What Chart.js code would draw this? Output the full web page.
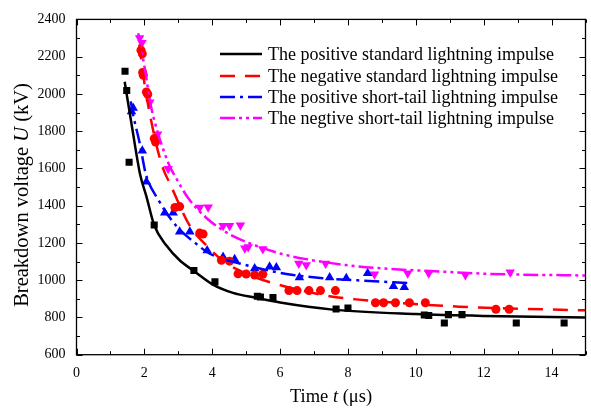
<!DOCTYPE html>
<html>
<head>
<meta charset="utf-8">
<script src="https://cdn.jsdelivr.net/npm/chart.js@4.4.0/dist/chart.umd.min.js"></script>
<style>
  html, body { margin: 0; padding: 0; background: #fff; }
  #wrap { width: 591px; height: 411px; }
</style>
</head>
<body>
<div id="wrap"><canvas id="c" width="591" height="411"></canvas></div>
<script>
// ── data ─────────────────────────────────────────────────────────────────────
const FONT = "'Times New Roman', 'Liberation Serif', serif";

const labels = [
  'The positive standard lightning impulse',
  'The negative standard lightning impulse',
  'The positive short-tail lightning impulse',
  'The negtive short-tail lightning impulse',
];

// measured points
const posStdT = [1.43, 1.48, 1.55, 2.29, 3.46, 4.08, 5.33, 5.42, 5.79, 7.65, 8.0, 10.25, 10.38, 10.84, 10.96, 11.36, 12.96, 14.37];
const posStdU = [2122, 2018, 1633, 1296, 1052, 991, 914, 910, 907, 845, 850, 813, 810, 770, 815, 815, 770, 770];

const negStdT = [1.90, 1.94, 1.95, 1.97, 2.06, 2.10, 2.29, 2.33, 2.90, 3.04, 3.63, 3.73, 4.27, 4.51, 4.76, 5.00, 5.25, 5.49, 6.26, 6.50, 6.85, 7.19, 7.63, 8.81, 9.05, 9.40, 9.81, 10.28, 12.36, 12.75];
const negStdU = [2235, 2215, 2115, 2100, 2010, 1998, 1760, 1742, 1390, 1395, 1253, 1248, 1107, 1102, 1034, 1033, 1028, 1032, 944, 944, 944, 944, 944, 879, 879, 879, 879, 879, 844, 844];

const posShortT = [1.62, 1.67, 1.94, 2.06, 2.60, 2.85, 3.04, 3.34, 3.85, 4.32, 4.66, 5.25, 5.69, 5.89, 6.57, 7.46, 7.95, 8.58, 9.34, 9.66];
const posShortU = [1905, 1925, 1695, 1528, 1362, 1362, 1260, 1260, 1160, 1125, 1113, 1063, 1072, 1068, 1014, 1014, 1011, 1037, 967, 962];

const negShortT = [1.86, 1.93, 2.16, 2.39, 2.70, 3.63, 3.88, 4.32, 4.51, 4.83, 4.96, 5.06, 5.49, 6.55, 6.77, 7.34, 8.78, 9.76, 10.38, 11.46, 12.78];
const negShortU = [2300, 2275, 1955, 1783, 1598, 1390, 1392, 1292, 1292, 1295, 1172, 1178, 1168, 1090, 1081, 1090, 1032, 1037, 1037, 1028, 1042];

// fitted curves
const posStdFitT = [1.42, 1.64, 1.87, 2.06, 2.29, 2.65, 3.04, 3.46, 4.02, 4.61, 5.3, 6.0, 7.55, 10.0, 12.0, 15.0];
const posStdFitU = [2065, 1818, 1572, 1450, 1295, 1186, 1107, 1049, 976, 932, 905, 880, 842, 818, 808, 800];

const negStdFitT = [1.85, 2.0, 2.3, 2.55, 2.75, 3.34, 3.88, 4.42, 5.1, 5.79, 7.46, 8.24, 11.28, 15.0];
const negStdFitU = [2265, 2060, 1770, 1600, 1520, 1292, 1177, 1090, 1028, 984, 914, 897, 858, 838];

const posShortFitT = [1.6, 1.67, 1.87, 2.04, 2.41, 2.9, 3.53, 3.93, 4.81, 6.23, 7.26, 8.49, 9.75];
const posShortFitU = [1960, 1888, 1730, 1572, 1432, 1300, 1195, 1142, 1090, 1032, 1011, 997, 985];

const negShortFitT = [1.82, 2.0, 2.2, 2.4, 2.75, 2.9, 3.29, 3.88, 4.51, 5.15, 6.03, 6.77, 7.95, 9.02, 10.79, 12.16, 15.0];
const negShortFitU = [2326, 2150, 1930, 1790, 1610, 1560, 1441, 1326, 1247, 1195, 1142, 1113, 1081, 1063, 1046, 1034, 1025];

const xTickLabels = ['0', '2', '4', '6', '8', '10', '12', '14'];

// ── helpers ───────────────────────────────────────────────────────────────────
const pts = (xs, ys) => xs.map((x, i) => ({ x, y: ys[i] }));

function marks(xs, ys, color, style, r, rot) {
  return {
    data: pts(xs, ys), showLine: false,
    pointStyle: style, pointRadius: r, pointRotation: rot || 0,
    backgroundColor: color, borderColor: color, borderWidth: 0,
    pointHoverRadius: r, order: 2,
  };
}
function curve(xs, ys, color, dash, label) {
  return {
    label, isFit: true,
    data: pts(xs, ys), showLine: true, pointRadius: 0,
    borderColor: color, borderWidth: 2.5, borderDash: dash, borderCapStyle: 'butt',
    cubicInterpolationMode: 'monotone', fill: false, order: 1,
  };
}

// inward ticks on all four sides + frame
const frame = {
  id: 'frame',
  afterDraw(chart) {
    const { ctx, chartArea: a, scales: { x, y } } = chart;
    ctx.save();
    ctx.strokeStyle = '#000';
    ctx.lineWidth = 1.3;
    ctx.strokeRect(a.left, a.top, a.right - a.left, a.bottom - a.top);
    ctx.lineWidth = 1;
    ctx.beginPath();
    for (let t = x.min; t <= x.max; t += 1) {
      const px = Math.round(x.getPixelForValue(t)) + 0.5;
      const len = t % 2 === 0 ? 6 : 3.5;
      ctx.moveTo(px, a.bottom); ctx.lineTo(px, a.bottom - len);
      ctx.moveTo(px, a.top);    ctx.lineTo(px, a.top + len);
    }
    for (let v = y.min; v <= y.max; v += 100) {
      const py = Math.round(y.getPixelForValue(v)) + 0.5;
      const len = v % 200 === 0 ? 6 : 3.5;
      ctx.moveTo(a.left, py);  ctx.lineTo(a.left + len, py);
      ctx.moveTo(a.right, py); ctx.lineTo(a.right - len, py);
    }
    ctx.stroke();
    ctx.restore();
  }
};

// axis titles with italic symbols
function drawParts(ctx, parts, cx, cy, size) {
  const f = p => (p.it ? 'italic ' : '') + size + 'px ' + FONT;
  let w = 0;
  parts.forEach(p => { ctx.font = f(p); w += ctx.measureText(p.s).width; });
  let xx = cx - w / 2;
  parts.forEach(p => {
    ctx.font = f(p);
    ctx.fillText(p.s, xx, cy);
    xx += ctx.measureText(p.s).width;
  });
}
const titles = {
  id: 'titles',
  afterDraw(chart) {
    const { ctx } = chart;
    ctx.save();
    ctx.fillStyle = '#000';
    ctx.textBaseline = 'middle';
    ctx.textAlign = 'left';
    drawParts(ctx, [{ s: 'Time ' }, { s: 't', it: true }, { s: ' (\u03bcs)' }], 331, 397, 18.5);
    ctx.translate(23, 195);
    ctx.rotate(-Math.PI / 2);
    drawParts(ctx, [{ s: 'Breakdown voltage ' }, { s: 'U', it: true }, { s: ' (kV)' }], 0, 0, 20.5);
    ctx.restore();
  }
};

// legend inside the plot
const legendBox = {
  id: 'legendBox',
  afterDraw(chart) {
    const { ctx } = chart;
    const fits = chart.data.datasets.filter(d => d.isFit);
    const rows = [54, 76, 97, 118];
    ctx.save();
    fits.forEach((d, i) => {
      ctx.strokeStyle = d.borderColor;
      ctx.lineWidth = 2.5;
      ctx.setLineDash(d.borderDash || []);
      ctx.beginPath();
      ctx.moveTo(220, rows[i]); ctx.lineTo(262, rows[i]);
      ctx.stroke();
      ctx.setLineDash([]);
      ctx.fillStyle = '#000';
      ctx.font = '18px ' + FONT;
      ctx.textBaseline = 'middle';
      ctx.fillText(d.label, 268, rows[i] + 1);
    });
    ctx.restore();
  }
};

new Chart(document.getElementById('c'), {
  type: 'scatter',
  data: {
    datasets: [
      curve(posStdFitT, posStdFitU, '#000000', [], labels[0]),
      curve(negStdFitT, negStdFitU, '#ff0000', [15, 10], labels[1]),
      curve(posShortFitT, posShortFitU, '#0000ff', [15, 5, 3, 5], labels[2]),
      curve(negShortFitT, negShortFitU, '#ff00ff', [15, 4, 3, 4, 3, 4], labels[3]),
      marks(posStdT, posStdU, '#000000', 'rect', 5),
      marks(negStdT, negStdU, '#ff0000', 'circle', 4.5),
      marks(posShortT, posShortU, '#0000ff', 'triangle', 5.5),
      marks(negShortT, negShortU, '#ff00ff', 'triangle', 5.5, 180),
    ],
  },
  options: {
    responsive: false,
    animation: false,
    devicePixelRatio: 1,
    layout: { padding: { top: 12.7, right: 4.5, left: 0, bottom: 0 } },
    plugins: { legend: { display: false }, tooltip: { enabled: false } },
    scales: {
      x: {
        type: 'linear', min: 0, max: 15,
        afterFit: s => { s.height = 56.3; },
        afterBuildTicks: s => { s.ticks = xTickLabels.map(v => ({ value: +v })); },
        grid: { display: false, drawTicks: false },
        border: { display: false },
        ticks: { color: '#000', padding: 10, font: { family: FONT, size: 14 }, maxRotation: 0,
                 callback: v => String(v) },
      },
      y: {
        type: 'linear', min: 600, max: 2400,
        afterFit: s => { s.width = 76.5; },
        grid: { display: false, drawTicks: false },
        border: { display: false },
        ticks: { stepSize: 200, color: '#000', padding: 11, font: { family: FONT, size: 14 },
                 callback: v => String(v) },
      },
    },
  },
  plugins: [frame, titles, legendBox],
});
</script>
</body>
</html>
